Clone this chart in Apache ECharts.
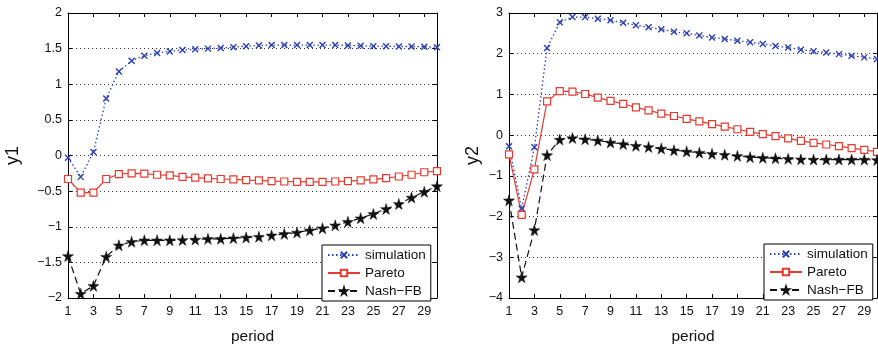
<!DOCTYPE html>
<html><head><meta charset="utf-8">
<script src="https://cdn.jsdelivr.net/npm/echarts@6/dist/echarts.min.js"></script>
<style>html,body{margin:0;padding:0;background:#fff}#c{width:878px;height:350px}</style>
</head><body><div id="c"></div>
<script>
var periods = [1,2,3,4,5,6,7,8,9,10,11,12,13,14,15,16,17,18,19,20,21,22,23,24,25,26,27,28,29,30];
var seriesNames = ['simulation','Pareto','Nash\u2212FB'];

var y1Simulation = [-0.03,-0.30,0.05,0.80,1.18,1.33,1.40,1.44,1.46,1.48,1.49,1.50,1.51,1.52,1.535,1.545,1.55,1.55,1.55,1.55,1.55,1.55,1.545,1.54,1.535,1.535,1.53,1.53,1.525,1.52];
var y1Pareto = [-0.33,-0.52,-0.52,-0.33,-0.26,-0.25,-0.255,-0.27,-0.28,-0.30,-0.31,-0.32,-0.33,-0.335,-0.345,-0.35,-0.36,-0.365,-0.37,-0.37,-0.37,-0.365,-0.36,-0.35,-0.335,-0.317,-0.295,-0.27,-0.235,-0.22];
var y1Nash = [-1.41,-1.94,-1.83,-1.42,-1.26,-1.21,-1.19,-1.19,-1.19,-1.185,-1.18,-1.17,-1.17,-1.16,-1.15,-1.14,-1.12,-1.10,-1.08,-1.05,-1.02,-0.98,-0.93,-0.88,-0.82,-0.75,-0.68,-0.59,-0.51,-0.43];

var y2Simulation = [-0.27,-1.80,-0.30,2.14,2.77,2.90,2.90,2.86,2.82,2.76,2.70,2.65,2.60,2.54,2.50,2.45,2.40,2.36,2.32,2.28,2.24,2.19,2.15,2.10,2.06,2.03,1.99,1.95,1.91,1.87];
var y2Pareto = [-0.47,-1.96,-0.84,0.83,1.08,1.07,1.01,0.92,0.84,0.77,0.68,0.61,0.53,0.47,0.40,0.34,0.27,0.21,0.145,0.08,0.025,-0.025,-0.08,-0.14,-0.19,-0.23,-0.27,-0.32,-0.36,-0.41];
var y2Nash = [-1.60,-3.49,-2.33,-0.49,-0.11,-0.07,-0.10,-0.13,-0.18,-0.22,-0.26,-0.29,-0.33,-0.37,-0.40,-0.43,-0.46,-0.48,-0.51,-0.54,-0.555,-0.57,-0.58,-0.595,-0.60,-0.60,-0.60,-0.60,-0.60,-0.61];

var BLUE = '#2c3fb1', RED = '#e53a2f', BLACK = '#111111';
var FONT = 'Liberation Sans';
var STAR = 'path://M50,0 L61,35 L98,35 L68,57 L79,91 L50,70 L21,91 L32,57 L2,35 L39,35 Z';
var XMARK = 'path://M0,0 L10,10 M10,0 L0,10';
function minus(v){ return String(v).replace('-', '\u2212'); }

var chart = echarts.init(document.getElementById('c'), null, {renderer:'canvas'});

function xBottom(gi){
  return {type:'category', gridIndex:gi, data:periods, boundaryGap:false, position:'bottom',
    axisLine:{show:true, onZero:false, lineStyle:{color:'#000', width:1}},
    axisTick:{show:true, inside:true, length:4, interval:1, lineStyle:{color:'#000'}},
    axisLabel:{interval:1, color:'#111', fontFamily:FONT, fontSize:12.5, margin:7},
    splitLine:{show:false},
    name:'period', nameLocation:'middle', nameGap:31,
    nameTextStyle:{color:'#111', fontFamily:FONT, fontSize:15.5}};
}
function xTop(gi){
  return {type:'category', gridIndex:gi, data:periods, boundaryGap:false, position:'top',
    axisLine:{show:true, onZero:false, lineStyle:{color:'#000', width:1}},
    axisTick:{show:true, inside:true, length:4, interval:1, lineStyle:{color:'#000'}},
    axisLabel:{show:false}, splitLine:{show:false}};
}
function yLeft(gi, mn, mx, iv, nm, gap){
  return {type:'value', gridIndex:gi, min:mn, max:mx, interval:iv, position:'left',
    axisLine:{show:true, onZero:false, lineStyle:{color:'#000', width:1}},
    axisTick:{show:true, inside:true, length:4, lineStyle:{color:'#000'}},
    axisLabel:{color:'#111', fontFamily:FONT, fontSize:12.5, margin:6, formatter:minus},
    splitLine:{show:true, lineStyle:{color:'#333', width:1, type:[1,3]}},
    name:nm, nameLocation:'middle', nameGap:gap, nameRotate:90,
    nameTextStyle:{color:'#111', fontFamily:FONT, fontSize:18}};
}
function yRight(gi, mn, mx, iv){
  return {type:'value', gridIndex:gi, min:mn, max:mx, interval:iv, position:'right',
    axisLine:{show:true, onZero:false, lineStyle:{color:'#000', width:1}},
    axisTick:{show:true, inside:true, length:4, lineStyle:{color:'#000'}},
    axisLabel:{show:false}, splitLine:{show:false}};
}
function mk(name, data, xi, yi, kind){
  var s = {type:'line', name:name, data:data, xAxisIndex:xi, yAxisIndex:yi, animation:false, clip:false,
    showSymbol:true, showAllSymbol:true};
  if(kind===0){
    s.symbol = XMARK; s.symbolSize = 6;
    s.lineStyle = {color:BLUE, width:1.3, type:[1.5,2.5]};
    s.itemStyle = {color:BLUE, borderColor:BLUE, borderWidth:1.4};
  } else if(kind===1){
    s.symbol = 'rect'; s.symbolSize = 7;
    s.lineStyle = {color:RED, width:1.2, type:'solid'};
    s.itemStyle = {color:'#fff', borderColor:RED, borderWidth:1.2};
  } else {
    s.symbol = STAR; s.symbolSize = 11;
    s.lineStyle = {color:BLACK, width:1.2, type:[7,4]};
    s.itemStyle = {color:BLACK, borderColor:BLACK, borderWidth:0.5};
  }
  return s;
}
function legend(l, t){
  return {orient:'vertical', left:l, top:t, data:seriesNames, itemWidth:32, itemHeight:8, itemGap:4,
    padding:[3,5,3,5], borderColor:'#000', borderWidth:1, backgroundColor:'#fff', borderRadius:0,
    selectedMode:false, textStyle:{color:'#111', fontFamily:FONT, fontSize:13.5}};
}

chart.setOption({
  backgroundColor:'#fff',
  animation:false,
  grid:[{left:68, top:13, width:369, height:290},{left:509, top:13, width:368, height:290}],
  xAxis:[xBottom(0), xTop(0), xBottom(1), xTop(1)],
  yAxis:[yLeft(0,-2,2,0.5,'y1',46), yRight(0,-2,2,0.5), yLeft(1,-4,3,1,'y2',27), yRight(1,-4,3,1)],
  legend:[legend(322,245), legend(764,244)],
  series:[
    mk(seriesNames[0], y1Simulation, 0, 0, 0),
    mk(seriesNames[1], y1Pareto, 0, 0, 1),
    mk(seriesNames[2], y1Nash, 0, 0, 2),
    mk(seriesNames[0], y2Simulation, 2, 2, 0),
    mk(seriesNames[1], y2Pareto, 2, 2, 1),
    mk(seriesNames[2], y2Nash, 2, 2, 2)
  ]
});
</script></body></html>
